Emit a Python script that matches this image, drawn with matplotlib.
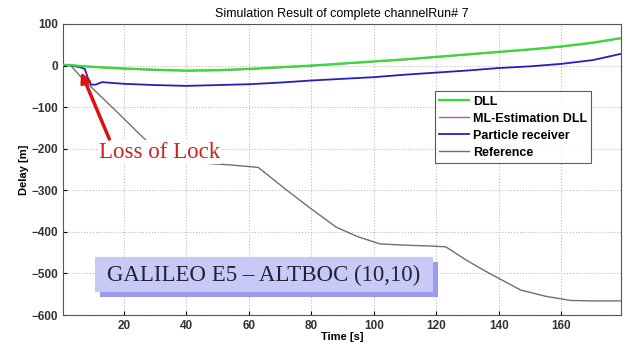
import numpy as np
import matplotlib
matplotlib.use('Agg')
import matplotlib.pyplot as plt
from matplotlib.patches import Rectangle

# data
t_dll = [0, 3, 6, 10, 15, 20, 30, 40, 50, 60, 70, 80, 90, 100, 110, 120, 130, 140, 150, 160, 170, 179]
dll = [2, 1, -1, -3, -5, -7, -10, -12, -11, -8, -4, 0, 5, 10, 15, 21, 27, 33, 39, 46, 55, 66]
ml_dll = [2, 1, -1, -4, -6, -8, -11, -13, -12, -9, -5, -1, 4, 9, 14, 20, 26, 32, 38, 45, 54, 65]

t_part = [0, 3, 6, 7.5, 8.5, 9.5, 11, 13, 20, 30, 40, 50, 60, 70, 80, 90, 100, 110, 120, 130, 140, 150, 160, 170, 179]
particle = [2, 0, -4, -8, -30, -46, -46, -40, -44, -47, -49, -47, -45, -41, -36, -32, -28, -22, -17, -12, -6, -2, 4, 13, 28]

t_ref = [0, 3, 6, 10, 18, 26, 32, 40, 54, 63, 72, 80, 88, 95, 102, 110, 118, 123, 130, 137, 147, 155, 163, 170, 179]
reference = [2, 0, -25, -55, -113, -172, -215, -232, -239, -245, -299, -345, -389, -412, -429, -432, -434, -436, -470, -500, -540, -555, -565, -566, -566]

xticks = [20, 40, 60, 80, 100, 120, 140, 160]
yticks = [100, 0, -100, -200, -300, -400, -500, -600]

plt.rcParams['font.family'] = ['Liberation Sans', 'DejaVu Sans']

fig = plt.figure(figsize=(6.29, 3.52), dpi=100)
ax = fig.add_axes([0.100, 0.105, 0.887, 0.827])

ax.plot(t_dll, dll, color='#33dd33', lw=1.6, label='DLL', zorder=4)
ax.plot(t_dll, ml_dll, color='#cc44cc', lw=1.0, label='ML-Estimation DLL', zorder=3)
ax.plot(t_part, particle, color='#2222bb', lw=1.3, label='Particle receiver', zorder=3)
ax.plot(t_ref, reference, color='#707070', lw=1.0, label='Reference', zorder=2)

ax.set_xlim(0.5, 179)
ax.set_ylim(-600, 100)
ax.set_xticks(xticks)
ax.set_yticks(yticks)
ax.tick_params(labelsize=8.5, direction='in', length=3)
for lab in ax.get_xticklabels() + ax.get_yticklabels():
    lab.set_fontweight('bold')
    lab.set_color('#333333')
ax.grid(True, ls=':', color='#bbbbbb', lw=0.8)
for s in ax.spines.values():
    s.set_color('#555555')

ax.set_title('Simulation Result of complete channelRun# 7', fontsize=9, pad=5)
ax.set_xlabel('Time [s]', fontsize=8, fontweight='bold', labelpad=0)
ax.set_ylabel('Delay [m]', fontsize=8, fontweight='bold', labelpad=2)

leg = ax.legend(loc='upper right', bbox_to_anchor=(0.958, 0.79), fontsize=9,
                frameon=True, fancybox=False, edgecolor='#333333',
                handlelength=2.4, handletextpad=0.3, borderpad=0.35, labelspacing=0.4)
leg.get_frame().set_linewidth(0.8)
for txt in leg.get_texts():
    txt.set_fontweight('bold')

# annotation: loss of lock
ax.text(12, -208, 'Loss of Lock', family='Liberation Serif', fontsize=16.5,
        color='#cc2222', ha='left', va='center', zorder=6,
        bbox=dict(facecolor='white', edgecolor='none', pad=1))
ax.annotate('', xy=(6, -10), xytext=(15.7, -183),
            arrowprops=dict(arrowstyle='-|>', color='#dd1111', lw=2.5,
                            mutation_scale=14), zorder=7)

# galileo label box with shadow
ax.add_patch(Rectangle((0.066, 0.062), 0.606, 0.12, transform=ax.transAxes,
                       facecolor='#9c9cee', edgecolor='none', zorder=7))
ax.add_patch(Rectangle((0.057, 0.079), 0.606, 0.12, transform=ax.transAxes,
                       facecolor='#c9c9f7', edgecolor='none', zorder=8))
ax.text(0.36, 0.137, 'GALILEO E5 \u2013 ALTBOC (10,10)', transform=ax.transAxes,
        family='Liberation Serif', fontsize=16.5, color='#222233',
        ha='center', va='center', zorder=9)

fig.savefig('out.png', dpi=100)
